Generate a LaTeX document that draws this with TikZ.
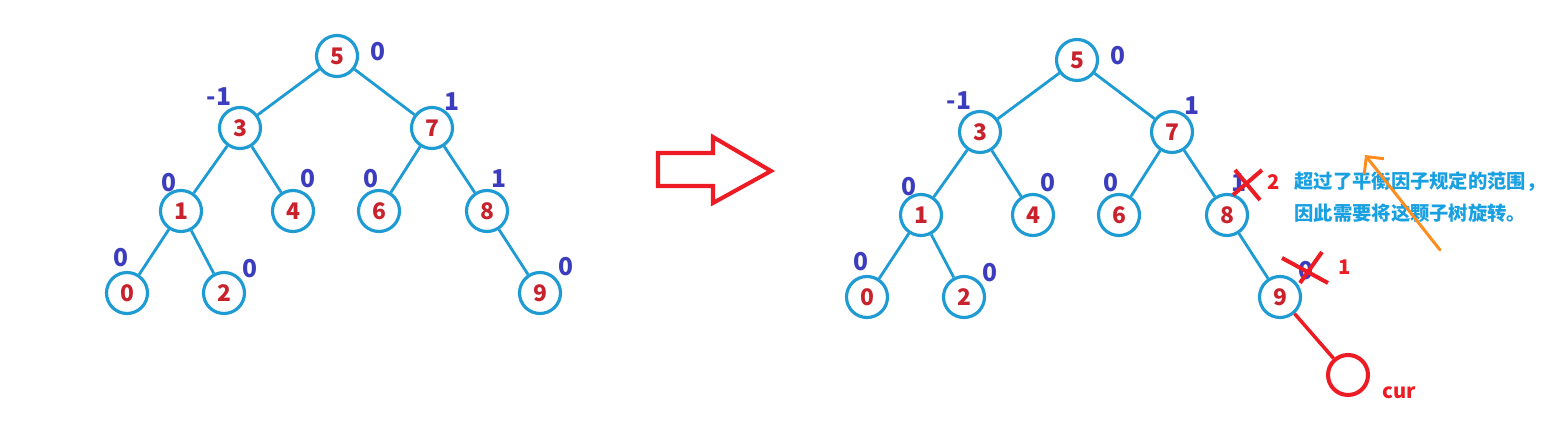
\documentclass[tikz,border=0pt]{standalone}
\usepackage{fontspec}
\setmainfont{Noto Sans CJK SC}
\usetikzlibrary{arrows.meta}
\definecolor{treeblue}{RGB}{30,155,210}
\definecolor{keyred}{RGB}{200,35,45}
\definecolor{balblue}{RGB}{60,60,190}
\definecolor{markred}{RGB}{237,28,36}
\definecolor{noteblue}{RGB}{25,160,225}
\definecolor{noteorange}{RGB}{255,140,30}
\tikzset{
  tnode/.style={circle,draw=treeblue,line width=1.8pt,minimum size=0.82cm,inner sep=0pt,text=keyred,font=\bfseries\fontsize{13}{13}\selectfont},
  tedge/.style={treeblue,line width=1.6pt},
  bal/.style={inner sep=0pt,text=balblue,font=\bfseries\fontsize{14}{14}\selectfont},
  xmark/.style={markred,line width=2.3pt},
  rlab/.style={inner sep=0pt,text=markred,font=\bfseries\fontsize{11.5}{11.5}\selectfont},
  curnode/.style={circle,draw=markred,line width=2.3pt,minimum size=0.8cm,inner sep=0pt},
  curedge/.style={markred,line width=2pt},
  bigarrow/.style={markred,line width=2.3pt,line join=miter},
  note/.style={inner sep=0pt,anchor=west,align=left,text=noteblue,font=\bfseries\fontsize{11}{18.1}\selectfont},
  notearrow/.style={noteorange,line width=1.7pt,line cap=round,-{Straight Barb[length=2.5mm,width=5mm]}}
}
\begin{document}
\begin{tikzpicture}[x=0.02cm,y=-0.02cm]
  \useasboundingbox (0,0) rectangle (1554,421);
  % tree before insertion
  \node[tnode] (l5) at (337,56) {5};
  \node[tnode] (l3) at (240,128) {3}; \node[tnode] (l7) at (432,128) {7};
  \node[tnode] (l1) at (181,211) {1}; \node[tnode] (l4) at (293,211) {4}; \node[tnode] (l6) at (379,211) {6}; \node[tnode] (l8) at (487,211) {8};
  \node[tnode] (l0) at (127,293) {0}; \node[tnode] (l2) at (224,293) {2}; \node[tnode] (l9) at (540,293) {9};
  \draw[tedge] (l5) -- (l3); \draw[tedge] (l5) -- (l7); \draw[tedge] (l3) -- (l1); \draw[tedge] (l3) -- (l4);
  \draw[tedge] (l7) -- (l6); \draw[tedge] (l7) -- (l8); \draw[tedge] (l1) -- (l0); \draw[tedge] (l1) -- (l2); \draw[tedge] (l8) -- (l9);
  \node[bal] (bl5) at (378,52) {0}; \node[bal] (bl3) at (219,97) {-1}; \node[bal] (bl7) at (452,102) {1};
  \node[bal] (bl1) at (169,183) {0}; \node[bal] (bl4) at (308,179) {0}; \node[bal] (bl6) at (371,179) {0}; \node[bal] (bl8) at (499,179) {1};
  \node[bal] (bl0) at (121,258) {0}; \node[bal] (bl2) at (250,269) {0}; \node[bal] (bl9) at (566,267) {0};
  % arrow between the trees
  \draw[bigarrow] (658,153) -- (713,153) -- (713,137) -- (771,171) -- (713,203) -- (713,186) -- (658,186) -- cycle;
  % tree after insertion
  \node[tnode] (r5) at (1077,60) {5};
  \node[tnode] (r3) at (980,132) {3}; \node[tnode] (r7) at (1172,132) {7};
  \node[tnode] (r1) at (921,215) {1}; \node[tnode] (r4) at (1033,215) {4}; \node[tnode] (r6) at (1119,215) {6}; \node[tnode] (r8) at (1227,215) {8};
  \node[tnode] (r0) at (867,297) {0}; \node[tnode] (r2) at (964,297) {2}; \node[tnode] (r9) at (1280,297) {9};
  \draw[tedge] (r5) -- (r3); \draw[tedge] (r5) -- (r7); \draw[tedge] (r3) -- (r1); \draw[tedge] (r3) -- (r4);
  \draw[tedge] (r7) -- (r6); \draw[tedge] (r7) -- (r8); \draw[tedge] (r1) -- (r0); \draw[tedge] (r1) -- (r2); \draw[tedge] (r8) -- (r9);
  \node[bal] (br5) at (1118,56) {0}; \node[bal] (br3) at (959,101) {-1}; \node[bal] (br7) at (1192,106) {1};
  \node[bal] (br1) at (909,187) {0}; \node[bal] (br4) at (1048,183) {0}; \node[bal] (br6) at (1111,183) {0}; \node[bal] (br8) at (1239,183) {1};
  \node[bal] (br0) at (861,262) {0}; \node[bal] (br2) at (990,273) {0}; \node[bal] (br9) at (1306,271) {0};
  \node[curnode] (cur) at (1348,375) {}; \draw[curedge] (r9) -- (cur);
  \node[rlab] (curlab) at (1399,393) {cur};
  % crossed out factors
  \draw[xmark] (1235,170) -- (1260,200); \draw[xmark] (1262,170) -- (1233,195);
  \draw[xmark] (1282,258) -- (1328,283); \draw[xmark] (1322,252) -- (1300,283);
  \node[rlab] (new8) at (1274,182) {2}; \node[rlab] (new9) at (1345,267) {1};
  \node[note] (msg) at (1294,197) {超过了平衡因子规定的范围，\\因此需要将这颗子树旋转。};
  \draw[notearrow] (1440,250) -- (1365,155);
\end{tikzpicture}
\end{document}
